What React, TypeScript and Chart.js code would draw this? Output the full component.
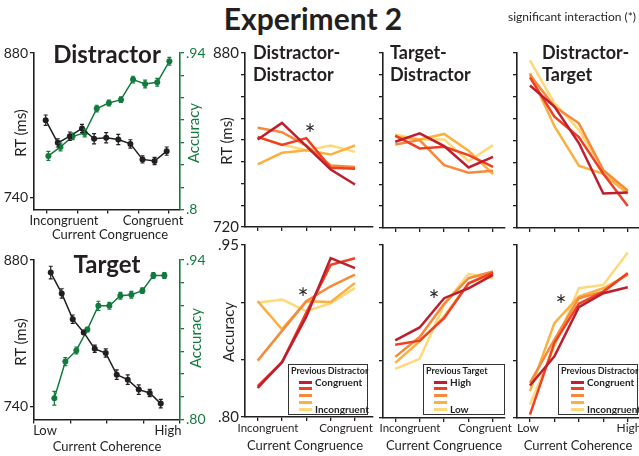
import React, { useEffect, useRef } from 'react';
import { Chart, registerables } from 'chart.js';
Chart.register(...registerables);

const FONT = 'Lato, "Open Sans", "Noto Sans", sans-serif';
const INK = '#231f20';
const GREEN = '#137a3e';
Chart.defaults.font.family = FONT;

// ---------------- data ----------------
const steps11 = [0, 1, 2, 3, 4, 5, 6, 7, 8, 9, 10];
const steps5 = [0, 1, 2, 3, 4];

const distractorRT = [815, 793, 799.5, 807, 797, 798, 796.3, 792, 777, 775.4, 785];
const distractorRTErr = [5, 4, 4, 4, 5, 5, 5, 4, 3.5, 3.5, 4];
const distractorAcc = [0.848, 0.856, 0.8655, 0.8685, 0.8903, 0.8953, 0.8983, 0.9162, 0.9123, 0.9138, 0.9326];
const distractorAccErr = [0.004, 0.0035, 0.003, 0.0035, 0.003, 0.0025, 0.0025, 0.003, 0.0035, 0.0035, 0.0035];

const targetRT = [868, 848, 823.4, 810.7, 795, 791, 770.3, 765.5, 756, 752.8, 742.6];
const targetRTErr = [6, 4.5, 4, 2, 3.5, 4, 4.5, 4.5, 4.5, 3.5, 4];
const targetAcc = [0.8187, 0.8509, 0.8607, 0.879, 0.8998, 0.8998, 0.9086, 0.9095, 0.9131, 0.9264, 0.9264];
const targetAccErr = [0.006, 0.0035, 0.003, 0.002, 0.004, 0.003, 0.003, 0.003, 0.0025, 0.0025, 0.0025];

// five previous-trial levels: dark red (Congruent / High) ... yellow (Incongruent / Low)
const levelColors = ['#be1e2d', '#ef4023', '#f58a3a', '#fbb040', '#ffd87a'];

const ddRT = [
  [800.4, 815.7, 794.3, 772.9, 759.1],
  [802.9, 795.5, 801.7, 774.4, 773.5],
  [811.2, 807.2, 794.9, 776.6, 775.1],
  [777.5, 788.2, 790.6, 786.6, 794.9],
  [802.6, 795.8, 790.6, 794.9, 789.1],
];
const tdRT = [
  [798.9, 806.6, 794.9, 775.3, 785.1],
  [804.4, 792.8, 794.3, 786.6, 775.9],
  [796.4, 800.4, 777.5, 770.5, 772.3],
  [803.5, 801.0, 806.0, 790.6, 769.3],
  [805.6, 801.0, 801.0, 781.1, 795.8],
];
const dtRT = [
  [850.3, 831.0, 797.7, 751.5, 752.4],
  [857.7, 821.8, 803.2, 769.6, 740.2],
  [860.2, 831.0, 815.7, 772.9, 754.2],
  [861.7, 813.1, 776.9, 769.6, 751.5],
  [873.3, 834.1, 809.6, 772.9, 754.2],
];
const ddAcc = [
  [0.8253, 0.8478, 0.8875, 0.9385, 0.9298],
  [0.827, 0.8478, 0.891, 0.9327, 0.9385],
  [0.8492, 0.8751, 0.901, 0.914, 0.9241],
  [0.901, 0.8765, 0.901, 0.9002, 0.9169],
  [0.8996, 0.9025, 0.8924, 0.899, 0.9126],
];
const tdAcc = [
  [0.8673, 0.8785, 0.9039, 0.9125, 0.9241],
  [0.8636, 0.8671, 0.8866, 0.9168, 0.9261],
  [0.853, 0.8702, 0.899, 0.9212, 0.927],
  [0.8478, 0.8665, 0.888, 0.9168, 0.9255],
  [0.8426, 0.8513, 0.8982, 0.925, 0.9212],
];
const dtAcc = [
  [0.8282, 0.8535, 0.8961, 0.9082, 0.9134],
  [0.803, 0.8651, 0.899, 0.9096, 0.9255],
  [0.8305, 0.868, 0.9039, 0.9096, 0.9255],
  [0.8233, 0.8823, 0.9053, 0.9125, 0.9241],
  [0.8118, 0.8622, 0.9125, 0.9154, 0.9434],
];

const rtTicksLeft = [740, 880];
const rtTickLabelsLeft = ['740', '880'];
const accTicksLeft = [0.8, 0.82, 0.84, 0.86, 0.88, 0.9, 0.92, 0.94];
const accLabelsA = ['.8', '', '', '', '', '', '', '.94'];
const accLabelsC = ['.80', '', '', '', '', '', '', '.94'];
const rtTicksRight = [720, 740, 760, 780, 800, 820, 840, 860, 880];
const rtLabelsRight = ['720', '', '', '', '', '', '', '', '880'];
const accTicksRight = [0.8, 0.85, 0.9, 0.95];
const accLabelsRight = ['.80', '', '', '.95'];

// ---------------- helpers ----------------
const errorBars = {
  id: 'errorBars',
  afterDatasetsDraw(chart: any) {
    const ctx = chart.ctx;
    chart.data.datasets.forEach((ds: any, i: number) => {
      if (!ds.errors) return;
      const meta = chart.getDatasetMeta(i);
      const xs = chart.scales[meta.xAxisID];
      const ys = chart.scales[meta.yAxisID];
      ctx.save();
      ctx.strokeStyle = ds.borderColor;
      ctx.lineWidth = 1.2;
      ds.data.forEach((p: any, j: number) => {
        const x = xs.getPixelForValue(p.x);
        const y1 = ys.getPixelForValue(p.y - ds.errors[j]);
        const y2 = ys.getPixelForValue(p.y + ds.errors[j]);
        ctx.beginPath();
        ctx.moveTo(x, y1); ctx.lineTo(x, y2);
        ctx.moveTo(x - 2, y1); ctx.lineTo(x + 2, y1);
        ctx.moveTo(x - 2, y2); ctx.lineTo(x + 2, y2);
        ctx.stroke();
      });
      ctx.restore();
    });
  },
};

type Axis = { min: number; max: number; ticks: number[]; labels?: string[]; color?: string; size?: number };
type Spec = {
  l: number; t: number; r: number; b: number;
  wl: number; wr: number;
  x: Axis; y: Axis; y2?: Axis;
  datasets: any[];
};
const PT = 12;
const HB = 10;

function axisOpts(a: Axis, kind: 'x' | 'y' | 'y2', size: number) {
  const color = a.color ?? INK;
  return {
    type: 'linear',
    position: kind === 'x' ? 'bottom' : kind === 'y' ? 'left' : 'right',
    min: a.min,
    max: a.max,
    afterBuildTicks: (s: any) => { s.ticks = a.ticks.map((v) => ({ value: v })); },
    afterFit: (s: any) => { if (kind === 'x') s.height = size; else s.width = size; },
    grid: { display: true, drawOnChartArea: false, drawTicks: true, tickLength: 4, color, lineWidth: 1.3 },
    border: { display: true, color, width: 1.6 },
    ticks: {
      display: !!a.labels,
      autoSkip: false,
      maxRotation: 0,
      padding: 2,
      color,
      font: { size: a.size ?? 14, family: FONT },
      callback: (_v: any, i: number) => (a.labels ? a.labels[i] : ''),
    },
  };
}

function Panel({ spec }: { spec: Spec }) {
  const ref = useRef<HTMLCanvasElement>(null);
  const cx = spec.l - spec.wl;
  const cy = spec.t - PT;
  const w = spec.wl + (spec.r - spec.l) + spec.wr;
  const h = PT + (spec.b - spec.t) + HB;
  useEffect(() => {
    const scales: any = {
      x: axisOpts(spec.x, 'x', HB),
      y: axisOpts(spec.y, 'y', spec.wl),
    };
    if (spec.y2) scales.y2 = axisOpts(spec.y2, 'y2', spec.wr);
    const chart = new Chart(ref.current as HTMLCanvasElement, {
      type: 'line',
      data: { datasets: spec.datasets },
      options: {
        animation: false,
        responsive: false,
        maintainAspectRatio: false,
        devicePixelRatio: 1,
        events: [],
        layout: { padding: { top: PT, bottom: 0, left: 0, right: spec.y2 ? 0 : spec.wr } },
        plugins: { legend: { display: false }, tooltip: { enabled: false } },
        scales,
      } as any,
      plugins: [errorBars as any],
    });
    return () => chart.destroy();
  }, []);
  return (
    <canvas
      ref={ref}
      width={w}
      height={h}
      style={{ position: 'absolute', left: cx, top: cy, width: w, height: h }}
    />
  );
}

function pts(xs: number[], ys: number[], dx = 0) {
  return ys.map((y, i) => ({ x: xs[i] + dx, y }));
}

function dotSeries(xs: number[], ys: number[], errs: number[], color: string, axis: string, dx = 0) {
  return {
    data: pts(xs, ys, dx),
    errors: errs,
    yAxisID: axis,
    borderColor: color,
    backgroundColor: color,
    borderWidth: 1.5,
    pointRadius: 3,
    pointBorderWidth: 0,
    pointBackgroundColor: color,
    tension: 0,
    fill: false,
  };
}

function levelSeries(sets: number[][]) {
  return sets.map((vals, k) => ({
    data: pts(steps5, vals),
    borderColor: levelColors[k],
    backgroundColor: levelColors[k],
    borderWidth: 2.5,
    pointRadius: 0,
    tension: 0,
    fill: false,
    borderJoinStyle: 'miter',
  }));
}

function Txt(props: {
  x: number; y: number; size: number; bold?: boolean; color?: string;
  anchor?: 'start' | 'middle'; rotate?: boolean; children: React.ReactNode;
}) {
  const { x, y, size, bold, color, anchor = 'middle', rotate, children } = props;
  const tx = anchor === 'middle' ? '-50%' : '0';
  return (
    <div
      style={{
        position: 'absolute', left: x, top: y, fontSize: size, lineHeight: 1,
        fontWeight: bold ? 700 : 400, color: color ?? INK, whiteSpace: 'nowrap',
        fontFamily: FONT,
        transform: `translate(${tx}, -50%)${rotate ? ' rotate(-90deg)' : ''}`,
      }}
    >
      {children}
    </div>
  );
}

function Legend(props: { x: number; y: number; w: number; h: number; title: string; first: string; last: string; swX: number }) {
  const { x, y, w, h, title, first, last, swX } = props;
  const rows = [17, 23, 30, 37, 44];
  return (
    <div style={{ position: 'absolute', left: x, top: y, width: w, height: h, border: '1.3px solid #333', background: '#fff', boxSizing: 'border-box', fontFamily: FONT }}>
      <div style={{ position: 'absolute', left: 2, top: 1, fontSize: 9, fontWeight: 700, whiteSpace: 'nowrap', color: INK, lineHeight: 1 }}>{title}</div>
      {rows.map((ry, k) => (
        <div key={k} style={{ position: 'absolute', left: swX, top: ry - 1.5, width: 13, height: 3, background: levelColors[k] }} />
      ))}
      <div style={{ position: 'absolute', left: swX + 16, top: rows[0] - 5.5, fontSize: 10, fontWeight: 700, lineHeight: 1, color: INK }}>{first}</div>
      <div style={{ position: 'absolute', left: swX + 16, top: rows[4] - 5, fontSize: 10, fontWeight: 700, lineHeight: 1, color: INK }}>{last}</div>
    </div>
  );
}

// ---------------- panel specs ----------------
const panelA: Spec = {
  l: 34, t: 53, r: 180, b: 210, wl: 34, wr: 28,
  x: { min: -0.967, max: 11.1, ticks: [0.05, 2.65, 5.1, 7.65, 10.2] },
  y: { min: 728.4, max: 880, ticks: rtTicksLeft, labels: rtTickLabelsLeft },
  y2: { min: 0.8, max: 0.94, ticks: accTicksLeft, labels: accLabelsA, color: GREEN },
  datasets: [
    dotSeries(steps11, distractorRT, distractorRTErr, INK, 'y'),
    dotSeries(steps11, distractorAcc, distractorAccErr, GREEN, 'y2', 0.22),
  ],
};
const panelC: Spec = {
  l: 34, t: 260, r: 180, b: 420, wl: 34, wr: 28,
  x: { min: -1.52, max: 11.75, ticks: [-1.52, 1.8, 5.1, 8.43, 11.75] },
  y: { min: 727.3, max: 880, ticks: rtTicksLeft, labels: rtTickLabelsLeft },
  y2: { min: 0.8, max: 0.94, ticks: accTicksLeft, labels: accLabelsC, color: GREEN },
  datasets: [
    dotSeries(steps11, targetRT, targetRTErr, INK, 'y'),
    dotSeries(steps11, targetAcc, targetAccErr, GREEN, 'y2', 0.33),
  ],
};

const cols = [
  { l: 245, r: 373, min: -0.52, max: 4.74 },
  { l: 383, r: 505, min: -0.5, max: 4.49 },
  { l: 517, r: 639, min: -0.53, max: 4.46 },
];
const rtSets = [ddRT, tdRT, dtRT];
const accSets = [ddAcc, tdAcc, dtAcc];

const rightPanels: Spec[] = [];
cols.forEach((c, i) => {
  rightPanels.push({
    l: c.l, t: 53, r: c.r, b: 228, wl: 36, wr: i === 2 ? 0 : 4,
    x: { min: c.min, max: c.max, ticks: steps5 },
    y: { min: 720, max: 880, ticks: rtTicksRight, labels: i === 0 ? rtLabelsRight : undefined, size: 15 },
    datasets: levelSeries(rtSets[i]),
  });
  rightPanels.push({
    l: c.l, t: 245, r: c.r, b: 418, wl: 36, wr: i === 2 ? 0 : 4,
    x: { min: c.min, max: c.max, ticks: steps5 },
    y: { min: 0.8, max: 0.95, ticks: accTicksRight, labels: i === 0 ? accLabelsRight : undefined, size: 15 },
    datasets: levelSeries(accSets[i]),
  });
});

export default function App() {
  return (
    <div style={{ position: 'absolute', left: 0, top: 0, width: 639, height: 456, background: '#fff', overflow: 'hidden', fontFamily: FONT }}>
      <Panel spec={panelA} />
      <Panel spec={panelC} />
      {rightPanels.map((s, i) => <Panel key={i} spec={s} />)}

      <Txt x={313} y={18} size={30} bold>Experiment 2</Txt>
      <Txt x={508} y={17} size={12} anchor="start">significant interaction (*)</Txt>

      <Txt x={107} y={54} size={24} bold>Distractor</Txt>
      <Txt x={107} y={264} size={24} bold>Target</Txt>
      <Txt x={20} y={133} size={15} rotate>RT (ms)</Txt>
      <Txt x={193} y={133} size={15} rotate color={GREEN}>Accuracy</Txt>
      <Txt x={20} y={342} size={15} rotate>RT (ms)</Txt>
      <Txt x={195} y={338} size={15} rotate color={GREEN}>Accuracy</Txt>
      <Txt x={64} y={220} size={13}>Incongruent</Txt>
      <Txt x={153} y={220} size={13}>Congruent</Txt>
      <Txt x={110} y={234} size={13}>Current Congruence</Txt>
      <Txt x={45} y={430} size={13}>Low</Txt>
      <Txt x={168} y={430} size={13}>High</Txt>
      <Txt x={107} y={446} size={13}>Current Coherence</Txt>

      <Txt x={253} y={52} size={18} bold anchor="start">Distractor-</Txt>
      <Txt x={253} y={74} size={18} bold anchor="start">Distractor</Txt>
      <Txt x={390} y={52} size={18} bold anchor="start">Target-</Txt>
      <Txt x={390} y={74} size={18} bold anchor="start">Distractor</Txt>
      <Txt x={542} y={52} size={18} bold anchor="start">Distractor-</Txt>
      <Txt x={542} y={74} size={18} bold anchor="start">Target</Txt>

      <Txt x={226} y={141} size={15} rotate>RT (ms)</Txt>
      <Txt x={228} y={332} size={15} rotate>Accuracy</Txt>

      <Txt x={268} y={428} size={11.5}>Incongruent</Txt>
      <Txt x={346} y={428} size={11.5}>Congruent</Txt>
      <Txt x={305} y={445} size={13}>Current Congruence</Txt>
      <Txt x={410} y={428} size={11.5}>Incongruent</Txt>
      <Txt x={485} y={428} size={11.5}>Congruent</Txt>
      <Txt x={444} y={445} size={13}>Current Congruence</Txt>
      <Txt x={528} y={428} size={12}>Low</Txt>
      <Txt x={629} y={428} size={12}>High</Txt>
      <Txt x={578} y={445} size={13}>Current Coherence</Txt>

      <Txt x={310} y={134} size={26}>*</Txt>
      <Txt x={303} y={298} size={26}>*</Txt>
      <Txt x={434} y={300} size={26}>*</Txt>
      <Txt x={561} y={305} size={26}>*</Txt>

      <Legend x={288} y={364} w={80} h={51} title="Previous Distractor" first="Congruent" last="Incongruent" swX={10} />
      <Legend x={423} y={364} w={82} h={51} title="Previous Target" first="High" last="Low" swX={10} />
      <Legend x={558} y={364} w={80} h={51} title="Previous Distractor" first="Congruent" last="Incongruent" swX={12} />
    </div>
  );
}
